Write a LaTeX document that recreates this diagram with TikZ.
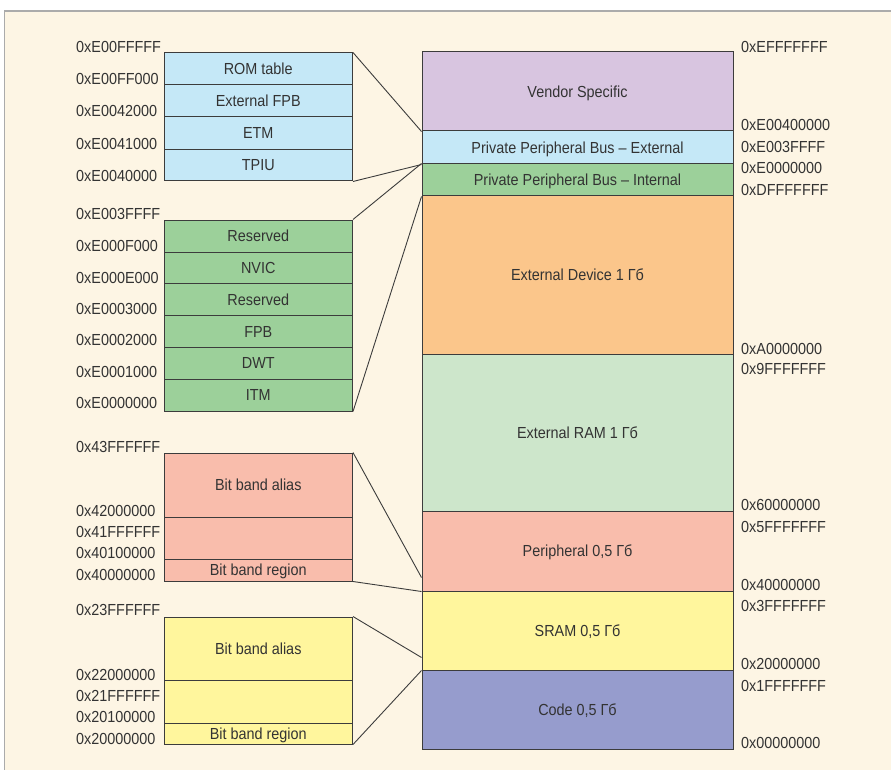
\documentclass[tikz,border=0pt]{standalone}
\usepackage{fontspec}
\setmainfont[FakeStretch=0.9]{Liberation Sans}
\usepackage{xcolor}
\usepackage{tikz}
\definecolor{Bg}{HTML}{FDF5E4}
\definecolor{Frame}{HTML}{ABABAB}
\definecolor{Line}{HTML}{3C3C3C}
\definecolor{Txt}{HTML}{333333}
\definecolor{Vendor}{HTML}{D8C5E0}
\definecolor{PPBext}{HTML}{C5E8F7}
\definecolor{PPBint}{HTML}{9CD09A}
\definecolor{ExtDev}{HTML}{FBC68B}
\definecolor{ExtRAM}{HTML}{CDE6CB}
\definecolor{Periph}{HTML}{F9BDAC}
\definecolor{SRAM}{HTML}{FFF69D}
\definecolor{Code}{HTML}{969CCD}
\tikzset{
  seg/.style={draw=Line, line width=1pt, inner sep=0pt, text=Txt, text height=11.5pt, text depth=0pt, font=\fontsize{16}{18}\selectfont},
  mapseg/.style={seg, minimum width=311pt},
  subseg/.style={seg, minimum width=188.5pt},
  addr/.style={anchor=west, inner sep=0pt, text=Txt, text height=11.5pt, text depth=0pt, font=\fontsize{16}{18}\selectfont},
  link/.style={draw=Line, line width=0.9pt},
}

\begin{document}
\begin{tikzpicture}[x=1pt, y=-1pt]%
\useasboundingbox (0,0) rectangle (891,770);%
\fill[white] (0,0) rectangle (891,770);%
\fill[Bg] (4.5,11) rectangle (891,770);%
\draw[Frame, line width=1.5pt] (4.5,770) -- (4.5,11) -- (891,11);%
% memory map
\node[mapseg, fill=Vendor, minimum height=79pt] (vendor) at (577.5, 91.5) {Vendor Specific};%
\node[mapseg, fill=PPBext, minimum height=33pt] (ppbext) at (577.5, 147.5) {Private Peripheral Bus – External};%
\node[mapseg, fill=PPBint, minimum height=32pt] (ppbint) at (577.5, 180) {Private Peripheral Bus – Internal};%
\node[mapseg, fill=ExtDev, minimum height=158pt] (extdev) at (577.5, 275) {External Device 1 Гб};%
\node[mapseg, fill=ExtRAM, minimum height=157pt] (extram) at (577.5, 432.5) {External RAM 1 Гб};%
\node[mapseg, fill=Periph, minimum height=80pt] (periph) at (577.5, 551) {Peripheral 0,5 Гб};%
\node[mapseg, fill=SRAM, minimum height=79pt] (sram) at (577.5, 630.5) {SRAM 0,5 Гб};%
\node[mapseg, fill=Code, minimum height=79pt] (code) at (577.5, 709.5) {Code 0,5 Гб};%
\node[addr] (rEFFFFFFF) at (741, 46.7) {0xEFFFFFFF};%
\node[addr] (rE00400000) at (741, 125) {0xE00400000};%
\node[addr] (rE003FFFF) at (741, 146.7) {0xE003FFFF};%
\node[addr] (rE0000000) at (741, 168) {0xE0000000};%
\node[addr] (rDFFFFFFF) at (741, 190) {0xDFFFFFFF};%
\node[addr] (rA0000000) at (741, 348.3) {0xA0000000};%
\node[addr] (r9FFFFFFF) at (741, 368.3) {0x9FFFFFFF};%
\node[addr] (r60000000) at (741, 505) {0x60000000};%
\node[addr] (r5FFFFFFF) at (741, 526.7) {0x5FFFFFFF};%
\node[addr] (r40000000) at (741, 585) {0x40000000};%
\node[addr] (r3FFFFFFF) at (741, 605.7) {0x3FFFFFFF};%
\node[addr] (r20000000) at (741, 664) {0x20000000};%
\node[addr] (r1FFFFFFF) at (741, 685.7) {0x1FFFFFFF};%
\node[addr] (r00000000) at (741, 742.7) {0x00000000};%
% private peripheral bus - external
\node[subseg, fill=PPBext, minimum height=31.5pt] (rom) at (258.25, 68.75) {ROM table};%
\node[subseg, fill=PPBext, minimum height=32.5pt] (extfpb) at (258.25, 100.75) {External FPB};%
\node[subseg, fill=PPBext, minimum height=32.5pt] (etm) at (258.25, 133.25) {ETM};%
\node[subseg, fill=PPBext, minimum height=31.5pt] (tpiu) at (258.25, 165.25) {TPIU};%
\node[addr] (lE00FFFFF) at (76, 46.7) {0xE00FFFFF};%
\node[addr] (lE00FF000) at (76, 79) {0xE00FF000};%
\node[addr] (lE0042000) at (76, 110.7) {0xE0042000};%
\node[addr] (lE0041000) at (76, 144) {0xE0041000};%
\node[addr] (lE0040000) at (76, 175.7) {0xE0040000};%
% private peripheral bus - internal
\node[subseg, fill=PPBint, minimum height=32pt] (rsvA) at (258.25, 236) {Reserved};%
\node[subseg, fill=PPBint, minimum height=31.5pt] (nvic) at (258.25, 267.75) {NVIC};%
\node[subseg, fill=PPBint, minimum height=32pt] (rsvB) at (258.25, 299.5) {Reserved};%
\node[subseg, fill=PPBint, minimum height=31.5pt] (fpb) at (258.25, 331.25) {FPB};%
\node[subseg, fill=PPBint, minimum height=32pt] (dwt) at (258.25, 363) {DWT};%
\node[subseg, fill=PPBint, minimum height=32pt] (itm) at (258.25, 395) {ITM};%
\node[addr] (lE003FFFF) at (76, 214) {0xE003FFFF};%
\node[addr] (lE000F000) at (76, 246) {0xE000F000};%
\node[addr] (lE000E000) at (76, 277.3) {0xE000E000};%
\node[addr] (lE0003000) at (76, 308.7) {0xE0003000};%
\node[addr] (lE0002000) at (76, 340) {0xE0002000};%
\node[addr] (lE0001000) at (76, 371.7) {0xE0001000};%
\node[addr] (lE0000000) at (76, 402.7) {0xE0000000};%
% peripheral bit band
\node[subseg, fill=Periph, minimum height=64pt] (palias) at (258.25, 485) {Bit band alias};%
\node[subseg, fill=Periph, minimum height=42pt] (pgap) at (258.25, 538) {};%
\node[subseg, fill=Periph, minimum height=22pt] (pregion) at (258.25, 570) {Bit band region};%
\node[addr] (l43FFFFFF) at (76, 446.7) {0x43FFFFFF};%
\node[addr] (l42000000) at (76, 511) {0x42000000};%
\node[addr] (l41FFFFFF) at (76, 531.7) {0x41FFFFFF};%
\node[addr] (l40100000) at (76, 552.7) {0x40100000};%
\node[addr] (l40000000) at (76, 574.3) {0x40000000};%
% sram bit band
\node[subseg, fill=SRAM, minimum height=63.5pt] (salias) at (258.25, 648.75) {Bit band alias};%
\node[subseg, fill=SRAM, minimum height=42.5pt] (sgap) at (258.25, 701.75) {};%
\node[subseg, fill=SRAM, minimum height=21pt] (sregion) at (258.25, 733.5) {Bit band region};%
\node[addr] (l23FFFFFF) at (76, 610) {0x23FFFFFF};%
\node[addr] (l22000000) at (76, 675) {0x22000000};%
\node[addr] (l21FFFFFF) at (76, 695.7) {0x21FFFFFF};%
\node[addr] (l20100000) at (76, 716.7) {0x20100000};%
\node[addr] (l20000000) at (76, 739) {0x20000000};%
% connectors
\coordinate (periphhit) at ([yshift=14pt]periph.south west);%
\coordinate (sramhit) at ([yshift=13pt]sram.south west);%
\draw[link] (rom.north east) -- (vendor.south west);%
\draw[link] (tpiu.south east) -- (ppbext.south west);%
\draw[link] (rsvA.north east) -- (ppbint.north west);%
\draw[link] (itm.south east) -- (ppbint.south west);%
\draw[link] (palias.north east) -- (periphhit);%
\draw[link] (pregion.south east) -- (periph.south west);%
\draw[link] (salias.north east) -- (sramhit);%
\draw[link] (sregion.south east) -- (sram.south west);%
\end{tikzpicture}
\end{document}
